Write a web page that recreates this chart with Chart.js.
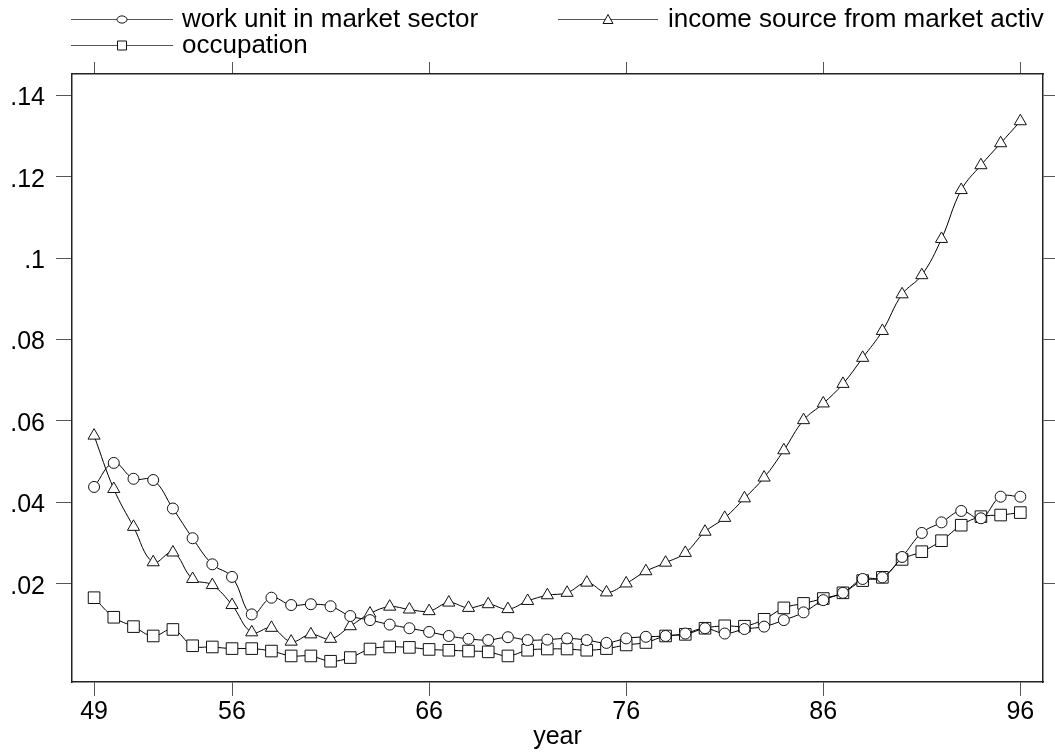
<!DOCTYPE html>
<html>
<head>
<meta charset="utf-8">
<title>year</title>
<script src="https://cdn.jsdelivr.net/npm/chart.js@4/dist/chart.umd.min.js"></script>
<style>
  html, body { margin: 0; padding: 0; background: #fff; }
  #wrap { width: 1055px; height: 753px; position: relative; }
</style>
</head>
<body>
<div id="wrap"><canvas id="c"></canvas></div>
<script>
// Survey years (19xx)
const years = [49, 50, 51, 52, 53, 54, 55, 56, 57, 58, 59, 60, 61, 62, 63, 64,
               65, 66, 67, 68, 69, 70, 71, 72, 73, 74, 75, 76, 77, 78, 79, 80,
               81, 82, 83, 84, 85, 86, 87, 88, 89, 90, 91, 92, 93, 94, 95, 96];

const workUnit = [0.0438, 0.0497, 0.0458, 0.0455, 0.0385, 0.0312, 0.0248, 0.0217,
                  0.0125, 0.0166, 0.0148, 0.0150, 0.0145, 0.0121, 0.0111, 0.0100,
                  0.0091, 0.0082, 0.0072, 0.0065, 0.0062, 0.0069, 0.0062, 0.0063,
                  0.0066, 0.0062, 0.0055, 0.0066, 0.0070, 0.0072, 0.0078, 0.0091,
                  0.0078, 0.0089, 0.0095, 0.0111, 0.0130, 0.0160, 0.0178, 0.0212,
                  0.0216, 0.0266, 0.0325, 0.0351, 0.0379, 0.0361, 0.0414, 0.0414];

const incomeSource = [0.0564, 0.0433, 0.0340, 0.0253, 0.0277, 0.0212, 0.0197, 0.0148,
                      0.0081, 0.0092, 0.0058, 0.0076, 0.0065, 0.0096, 0.0127, 0.0144,
                      0.0137, 0.0133, 0.0154, 0.0141, 0.0150, 0.0138, 0.0158, 0.0172,
                      0.0178, 0.0203, 0.0179, 0.0201, 0.0231, 0.0252, 0.0276, 0.0328,
                      0.0362, 0.0410, 0.0461, 0.0528, 0.0602, 0.0643, 0.0691, 0.0755,
                      0.0821, 0.0911, 0.0958, 0.1047, 0.1167, 0.1228, 0.1282, 0.1336];

const occupation = [0.0166, 0.0118, 0.0095, 0.0072, 0.0088, 0.0048, 0.0045, 0.0041,
                    0.0041, 0.0035, 0.0023, 0.0023, 0.0010, 0.0019, 0.0040, 0.0045,
                    0.0044, 0.0039, 0.0037, 0.0035, 0.0033, 0.0023, 0.0037, 0.0040,
                    0.0040, 0.0037, 0.0041, 0.0050, 0.0056, 0.0072, 0.0076, 0.0091,
                    0.0097, 0.0096, 0.0113, 0.0141, 0.0152, 0.0164, 0.0178, 0.0208,
                    0.0216, 0.0260, 0.0279, 0.0306, 0.0344, 0.0365, 0.0369, 0.0375];

const seriesNames = ['work unit in market sector', 'income source from market activ', 'occupation'];

const xTickValues = [49, 56, 66, 76, 86, 96];
const yTickValues = [0.02, 0.04, 0.06, 0.08, 0.10, 0.12, 0.14];
const yTickLabels = ['.02', '.04', '.06', '.08', '.1', '.12', '.14'];

const FONT = '"Liberation Sans", Arial, Helvetica, sans-serif';
const X_MIN = 47.88, X_MAX = 97.15;
const Y_MIN = -0.0041, Y_MAX = 0.1452;

function pts(values) {
  return years.map((yr, i) => ({ x: yr, y: values[i] }));
}

function setXTicks(scale) { scale.ticks = xTickValues.map(v => ({ value: v })); }
function setYTicks(scale) { scale.ticks = yTickValues.map(v => ({ value: v })); }

const frame = { display: true, color: '#222', width: 1.5 };

// Two-column legend above the plot: line segment with the series marker, then the label
const stataLegend = {
  id: 'stataLegend',
  afterDraw(chart, args, opts) {
    const ctx = chart.ctx;
    ctx.save();
    opts.items.forEach(item => {
      const ds = chart.data.datasets[item.ds];
      const y = item.y;
      ctx.strokeStyle = '#555';
      ctx.lineWidth = 1;
      ctx.beginPath();
      ctx.moveTo(item.x0, y + 0.5);
      ctx.lineTo(item.x1, y + 0.5);
      ctx.stroke();
      // marker
      const mx = item.mx;
      ctx.fillStyle = '#fff';
      ctx.strokeStyle = '#111';
      ctx.beginPath();
      if (ds.pointStyle === 'circle') {
        ctx.ellipse(mx, y + 0.5, 5, 3.6, 0, 0, Math.PI * 2);
      } else if (ds.pointStyle === 'triangle') {
        ctx.moveTo(mx, y - 4.5);
        ctx.lineTo(mx + 5, y + 4.5);
        ctx.lineTo(mx - 5, y + 4.5);
        ctx.closePath();
      } else {
        ctx.rect(mx - 4.5, y - 4, 9, 9);
      }
      ctx.fill();
      ctx.stroke();
      ctx.fillStyle = '#000';
      ctx.font = '26px ' + FONT;
      ctx.textAlign = 'left';
      ctx.textBaseline = 'alphabetic';
      ctx.fillText(ds.label, item.tx, y + 8);
    });
    ctx.restore();
  }
};

new Chart(document.getElementById('c'), {
  type: 'line',
  data: {
    datasets: [
      { label: seriesNames[0], data: pts(workUnit), pointStyle: 'circle', pointRadius: 5.5 },
      { label: seriesNames[1], data: pts(incomeSource), pointStyle: 'triangle', pointRadius: 7 },
      { label: seriesNames[2], data: pts(occupation), pointStyle: 'rect', pointRadius: 8.2 }
    ].map(d => Object.assign(d, {
      borderColor: '#000',
      borderWidth: 1,
      tension: 0.4,
      fill: false,
      pointBackgroundColor: '#fff',
      pointBorderColor: '#111',
      pointBorderWidth: 1,
      pointHoverRadius: d.pointRadius
    }))
  },
  options: {
    responsive: true,
    maintainAspectRatio: false,
    animation: false,
    events: [],
    layout: { padding: 0 },
    plugins: {
      legend: { display: false },
      tooltip: { enabled: false },
      stataLegend: {
        items: [
          { ds: 0, x0: 71, x1: 173, mx: 122, tx: 182, y: 19 },
          { ds: 1, x0: 558, x1: 658, mx: 608, tx: 668, y: 19 },
          { ds: 2, x0: 71, x1: 173, mx: 122, tx: 182, y: 45 }
        ]
      }
    },
    scales: {
      x: {
        type: 'linear', position: 'bottom', min: X_MIN, max: X_MAX,
        afterBuildTicks: setXTicks,
        afterFit: s => { s.height = 71; },
        grid: { drawOnChartArea: false, drawTicks: true, tickLength: 14, color: '#555', lineWidth: 1 },
        border: frame,
        ticks: {
          color: '#000', font: { family: FONT, size: 25 }, padding: 1,
          maxRotation: 0, autoSkip: false, callback: v => String(v)
        },
        title: {
          display: true, text: 'year', color: '#000',
          font: { family: FONT, size: 25 }, padding: { top: 0, bottom: 1 }
        }
      },
      xTop: {
        type: 'linear', position: 'top', min: X_MIN, max: X_MAX,
        afterBuildTicks: setXTicks,
        afterFit: s => { s.height = 74; },
        grid: { drawOnChartArea: false, drawTicks: true, tickLength: 12, color: '#555', lineWidth: 1 },
        border: frame,
        ticks: { display: false }
      },
      y: {
        type: 'linear', position: 'left', min: Y_MIN, max: Y_MAX,
        afterBuildTicks: setYTicks,
        afterFit: s => { s.width = 72; },
        grid: { drawOnChartArea: false, drawTicks: true, tickLength: 16, color: '#555', lineWidth: 1 },
        border: frame,
        ticks: {
          color: '#000', font: { family: FONT, size: 25 }, padding: 11, labelOffset: 3,
          autoSkip: false,
          callback: (v, i) => yTickLabels[i]
        }
      },
      yRight: {
        type: 'linear', position: 'right', min: Y_MIN, max: Y_MAX,
        afterBuildTicks: setYTicks,
        afterFit: s => { s.width = 12; },
        grid: { drawOnChartArea: false, drawTicks: true, tickLength: 12, color: '#555', lineWidth: 1 },
        border: frame,
        ticks: { display: false }
      }
    }
  },
  plugins: [stataLegend]
});
</script>
</body>
</html>
